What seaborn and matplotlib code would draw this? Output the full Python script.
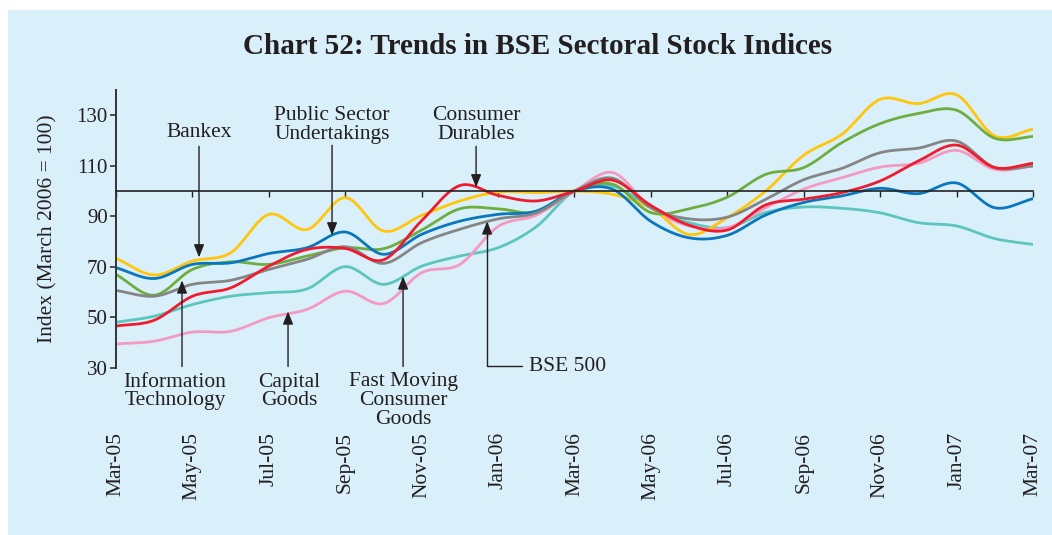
import numpy as np
import pandas as pd
import matplotlib
matplotlib.use("Agg")
import matplotlib.pyplot as plt
from matplotlib.patches import Rectangle
import seaborn as sns

# ---------------- data ----------------
months = ["Mar-05", "Apr-05", "May-05", "Jun-05", "Jul-05", "Aug-05", "Sep-05",
          "Oct-05", "Nov-05", "Dec-05", "Jan-06", "Feb-06", "Mar-06", "Apr-06",
          "May-06", "Jun-06", "Jul-06", "Aug-06", "Sep-06", "Oct-06", "Nov-06",
          "Dec-06", "Jan-07", "Feb-07", "Mar-07"]

bankex = [73.4, 66.8, 72.3, 75.6, 90.8, 84.8, 97.4, 84.2, 90.4, 96.1, 99.6, 99.4, 100.0,
          98.7, 93.4, 82.8, 89.5, 100.0, 114.2, 122.5, 136.3, 134.6, 138.1, 121.8, 124.5]
it = [67.0, 58.8, 69.0, 72.0, 71.0, 74.3, 77.6, 77.2, 84.6, 93.0, 93.0, 91.7, 100.0,
      102.7, 91.5, 93.0, 97.6, 106.6, 109.3, 119.2, 126.7, 130.7, 132.0, 120.9, 121.6]
psu = [69.7, 65.4, 71.0, 71.6, 75.3, 77.6, 83.8, 75.0, 82.9, 88.1, 90.8, 92.1, 100.0,
       100.7, 88.0, 81.5, 82.5, 90.5, 95.5, 98.1, 101.1, 99.0, 103.2, 93.4, 97.0]
bse500 = [60.7, 58.4, 63.1, 64.7, 69.0, 73.0, 78.0, 71.4, 79.6, 84.9, 89.0, 91.4, 100.0,
          105.1, 93.4, 89.0, 89.7, 96.7, 104.5, 109.0, 115.2, 117.0, 119.8, 109.3, 109.9]
cd = [46.6, 48.9, 58.4, 61.7, 70.3, 76.9, 77.3, 72.8, 88.3, 102.2, 98.3, 96.1, 100.0,
      104.3, 94.3, 86.5, 84.6, 94.5, 96.8, 99.4, 104.0, 111.9, 118.2, 109.3, 111.0]
fmcg = [48.1, 50.5, 55.1, 58.4, 59.8, 61.3, 70.1, 63.1, 70.3, 74.3, 77.6, 85.9, 100.0,
        102.0, 93.4, 87.5, 85.5, 91.5, 93.7, 93.2, 91.4, 87.5, 86.2, 81.2, 78.9]
cg = [39.5, 40.6, 44.2, 44.5, 49.9, 53.2, 60.4, 55.5, 67.7, 71.0, 86.0, 90.5, 100.0,
      107.3, 93.4, 86.2, 85.5, 93.4, 100.8, 105.3, 109.5, 111.0, 116.1, 108.6, 109.9]

series_names = ["FMCG", "Capital Goods", "Bankex", "Information Technology",
                "Public Sector Undertakings", "BSE 500", "Consumer Durables"]
series_values = [fmcg, cg, bankex, it, psu, bse500, cd]
series_colors = ["#5CC6BE", "#F49AC2", "#FFC60B", "#6EAD3F", "#0A77BD", "#858585", "#EE1C2E"]

yticks = [30, 50, 70, 90, 110, 130]


def smooth(vals, n=24):
    y = np.asarray(vals, float)
    p = np.concatenate([[2 * y[0] - y[1]], y, [2 * y[-1] - y[-2]]])
    xs, ys = [], []
    t = np.linspace(0, 1, n, endpoint=False)
    for i in range(len(y) - 1):
        p0, p1, p2, p3 = p[i], p[i + 1], p[i + 2], p[i + 3]
        ys.append(0.5 * (2 * p1 + (-p0 + p2) * t + (2 * p0 - 5 * p1 + 4 * p2 - p3) * t ** 2
                         + (-p0 + 3 * p1 - 3 * p2 + p3) * t ** 3))
        xs.append(i + t)
    xs.append([len(y) - 1])
    ys.append([y[-1]])
    return np.concatenate(xs), np.concatenate(ys)


frames = []
for name, vals in zip(series_names, series_values):
    sx, sy = smooth(vals)
    frames.append(pd.DataFrame({"t": sx, "v": sy, "series": name}))
df = pd.concat(frames, ignore_index=True)

# ---------------- figure ----------------
sns.set_theme(style="white")
plt.rcParams["font.family"] = ["Liberation Serif", "DejaVu Serif"]

W, H = 1052, 535
FS = 15.5
fig = plt.figure(figsize=(W / 100, H / 100), dpi=100, facecolor="white")
fig.patches.append(Rectangle((8 / W, 0), 1 - 8 / W, 1 - 10 / H, transform=fig.transFigure,
                             facecolor="#D9F0FA", edgecolor="none", zorder=-10))

left, right, bottom, top = 116 / W, 1033 / W, 1 - 368 / H, 1 - 90 / H
ax = fig.add_axes([left, bottom, right - left, top - bottom])
ax.set_facecolor("none")

sns.lineplot(data=df, x="t", y="v", hue="series", hue_order=series_names,
             palette=dict(zip(series_names, series_colors)), linewidth=2.0,
             estimator=None, sort=False, legend=False, ax=ax)

ax.set_xlim(0, len(months) - 1)
ax.set_ylim(30, 140)

# spines
for s in ["top", "right"]:
    ax.spines[s].set_visible(False)
ax.spines["left"].set_color("#333333")
ax.spines["left"].set_linewidth(1.4)
ax.spines["left"].set_bounds(30, 140)
ax.spines["bottom"].set_position(("data", 100))
ax.spines["bottom"].set_color("#222222")
ax.spines["bottom"].set_linewidth(1.2)

tick_pos = list(range(0, len(months), 2))
ax.set_xticks(tick_pos)
ax.set_xticklabels([])
ax.tick_params(axis="x", direction="out", length=4, width=1.0, color="#222222", bottom=True)

ax.set_yticks(yticks)
ax.set_yticklabels([str(v) for v in yticks])
ax.tick_params(axis="y", direction="out", length=4, width=1.2, color="#333333", left=True,
               labelsize=15, labelcolor="#231F20", pad=2)

sec = ax.secondary_xaxis(location=0)
sec.set_xticks(tick_pos)
sec.set_xticklabels([months[i] for i in tick_pos], rotation=90, va="top", ha="center")
sec.tick_params(axis="x", length=0, pad=64 * 0.72, labelsize=FS, labelcolor="#231F20")
for s in sec.spines.values():
    s.set_visible(False)

ax.set_xlabel("")
ax.set_ylabel("Index (March 2006 = 100)", fontsize=FS, color="#231F20")
ax.yaxis.set_label_coords((57 - 116) / (1033 - 116), 0.5)

fig.text(538 / W, 1 - 46 / H, "Chart 52: Trends in BSE Sectoral Stock Indices",
         ha="center", va="center", fontsize=21, fontweight="bold", color="#231F20")

# ---------------- annotations ----------------
def m(px):
    return (px - 116) / 38.2


def v(py):
    return 130 - (py - 116) / 2.525


arrow_kw = dict(arrowstyle="-|>,head_length=0.55,head_width=0.22", color="#231F20",
                lw=1.0, shrinkA=0, shrinkB=0, mutation_scale=14)
txt_kw = dict(fontsize=FS, color="#231F20", ha="center", va="center",
              linespacing=0.98, clip_on=False)

# top labels (arrows pointing down)
ax.text(m(199), v(133), "Bankex", **txt_kw)
ax.annotate("", xy=(m(199), v(258)), xytext=(m(199), v(147)), arrowprops=arrow_kw,
            annotation_clip=False)
ax.text(m(332), v(126), "Public Sector\nUndertakings", **txt_kw)
ax.annotate("", xy=(m(332), v(236)), xytext=(m(332), v(146)), arrowprops=arrow_kw,
            annotation_clip=False)
ax.text(m(476), v(126), "Consumer\nDurables", **txt_kw)
ax.annotate("", xy=(m(476), v(188)), xytext=(m(476), v(147)), arrowprops=arrow_kw,
            annotation_clip=False)

# bottom labels (arrows pointing up)
ax.text(m(175), v(392), "Information\nTechnology", **txt_kw)
ax.annotate("", xy=(m(182), v(281)), xytext=(m(182), v(367)), arrowprops=arrow_kw,
            annotation_clip=False)
ax.text(m(289), v(392), "Capital\nGoods", **txt_kw)
ax.annotate("", xy=(m(288), v(312)), xytext=(m(288), v(367)), arrowprops=arrow_kw,
            annotation_clip=False)
ax.text(m(403), v(401), "Fast Moving\nConsumer\nGoods", **txt_kw)
ax.annotate("", xy=(m(403), v(277)), xytext=(m(403), v(367)), arrowprops=arrow_kw,
            annotation_clip=False)

ax.text(m(529), v(367), "BSE 500", fontsize=FS, color="#231F20", ha="left", va="center",
        clip_on=False)
bse_kw = dict(arrow_kw)
bse_kw["connectionstyle"] = "angle,angleA=180,angleB=90,rad=0"
ax.annotate("", xy=(m(487), v(222)), xytext=(m(522), v(367)), arrowprops=bse_kw,
            annotation_clip=False)

fig.savefig("out.png", dpi=100, facecolor="white")
